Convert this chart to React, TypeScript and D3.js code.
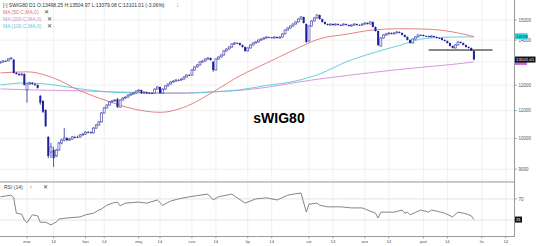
import React from 'react';
import * as d3 from 'd3';

const W = 536;
const H = 246;

const startDate = '2020-02-17';
const holidays = ['2020-04-10', '2020-04-13', '2020-05-01', '2020-06-11', '2020-11-11'];
const monthNames = ['sty', 'lut', 'mar', 'kwi', 'maj', 'cze', 'lip', 'sie', 'wrz', 'paź', 'lis', 'gru'];

// [open, high, low, close] per trading day from 2020-02-17
const candles: number[][] = [
  [12950, 13010, 12930, 12990], [12990, 13060, 12970, 13040], [13040, 13070, 13010, 13040], [13040, 13150, 13030, 13130],
  [13130, 13200, 13110, 13170], [13100, 13110, 12490, 12515], [12515, 12560, 12440, 12470], [12470, 12500, 12380, 12430],
  [12430, 12500, 12400, 12470], [12470, 12490, 11990, 12010], [11810, 12070, 11300, 12050], [12050, 12130, 12020, 12095],
  [12095, 12120, 12010, 12050], [12050, 12080, 11980, 12010], [12010, 12030, 11860, 11890], [11570, 11600, 11220, 11300],
  [11370, 11400, 10910, 10955], [11020, 11050, 10400, 10430], [10050, 10080, 9350, 9415], [9545, 9845, 9350, 9710],
  [9610, 9720, 9070, 9350], [9420, 9650, 9380, 9610], [9610, 9880, 9580, 9845], [9845, 9990, 9800, 9945],
  [9945, 10360, 9900, 10015], [10015, 10040, 9900, 9945], [9945, 10010, 9920, 9980], [9980, 10080, 9960, 10050],
  [10050, 10090, 10010, 10050], [10050, 10100, 10020, 10050], [10050, 10150, 10030, 10120], [10120, 10180, 10100, 10150],
  [10150, 10250, 10130, 10220], [10220, 10260, 10180, 10220], [10220, 10240, 10160, 10190], [10190, 10390, 10180, 10360],
  [10360, 10500, 10340, 10470], [10470, 10610, 10450, 10580], [10580, 10940, 10560, 10910], [10910, 11130, 10890, 11100],
  [11100, 11240, 11080, 11210], [11210, 11360, 11190, 11330], [11330, 11400, 11300, 11370], [11370, 11440, 11340, 11405],
  [11440, 11490, 11100, 11135], [11135, 11430, 11120, 11405], [11405, 11510, 11390, 11480], [11480, 11550, 11460, 11520],
  [11520, 11630, 11500, 11600], [11600, 11670, 11580, 11640], [11640, 11710, 11620, 11680], [11680, 11790, 11660, 11760],
  [11760, 11830, 11740, 11800], [11800, 11820, 11650, 11680], [11680, 11750, 11660, 11720], [11720, 11740, 11650, 11680],
  [11680, 11720, 11650, 11680], [11680, 11710, 11640, 11680], [11680, 11870, 11660, 11840], [11840, 11950, 11820, 11925],
  [11925, 11940, 11650, 11680], [11680, 11870, 11660, 11840], [11840, 11990, 11820, 11970], [11970, 12080, 11950, 12050],
  [12050, 12160, 12030, 12130], [12130, 12200, 12110, 12170], [12170, 12240, 12150, 12215], [12215, 12250, 12180, 12215],
  [12215, 12280, 12190, 12255], [12255, 12370, 12230, 12340], [12340, 12450, 12320, 12425], [12425, 12460, 12390, 12425],
  [12425, 12670, 12400, 12640], [12640, 12800, 12620, 12770], [12770, 12890, 12750, 12860], [12860, 13020, 12840, 12990],
  [12990, 13060, 12970, 13035], [13035, 13150, 13010, 13125], [13125, 13200, 13100, 13170], [13170, 13190, 13050, 13080],
  [13000, 13020, 12560, 12640], [12640, 13150, 12620, 13125], [13125, 13240, 13100, 13215], [13215, 13330, 13190, 13305],
  [13305, 13520, 13280, 13490], [13490, 13610, 13470, 13580], [13580, 13700, 13560, 13675], [13675, 13840, 13650, 13815],
  [13815, 13900, 13790, 13865], [13865, 13900, 13830, 13865], [13865, 13880, 13740, 13770], [13770, 13790, 13650, 13675],
  [13675, 13700, 13460, 13490], [13490, 13660, 13470, 13630], [13630, 13800, 13610, 13770], [13770, 13890, 13750, 13865],
  [13865, 13940, 13840, 13915], [13915, 14030, 13890, 14005], [14005, 14080, 13980, 14055], [14055, 14130, 14030, 14105],
  [14105, 14180, 14080, 14150], [14150, 14170, 14100, 14130], [14130, 14150, 14080, 14105], [14105, 14180, 14080, 14150],
  [14150, 14170, 14080, 14105], [14105, 14180, 14080, 14150], [14150, 14330, 14130, 14300], [14300, 14520, 14280, 14495],
  [14495, 14620, 14470, 14595], [14595, 14720, 14570, 14695], [14695, 14820, 14670, 14795], [14795, 14930, 14770, 14900],
  [14900, 15080, 14880, 15050], [15050, 15200, 15030, 15155], [15155, 15170, 14820, 14850], [14800, 14820, 13870, 13915],
  [13960, 14720, 13940, 14695], [14695, 14980, 14670, 14950], [14950, 15130, 14930, 15105], [15105, 15290, 15080, 15260],
  [15260, 15280, 15020, 15050], [15050, 15070, 14870, 14900], [14900, 14920, 14770, 14795], [14795, 14820, 14720, 14745],
  [14745, 14820, 14720, 14795], [14795, 14820, 14720, 14745], [14745, 14820, 14720, 14795], [14795, 14820, 14720, 14745],
  [14745, 14780, 14710, 14745], [14745, 14820, 14720, 14795], [14795, 14820, 14720, 14745], [14745, 14770, 14670, 14695],
  [14695, 14770, 14670, 14745], [14745, 14820, 14720, 14795], [14795, 14820, 14720, 14745], [14745, 14780, 14710, 14745],
  [14745, 14820, 14720, 14795], [14795, 14880, 14770, 14850], [14850, 14870, 14770, 14795], [14795, 14930, 14770, 14900],
  [14900, 14920, 14620, 14645], [14645, 14670, 14420, 14445], [14445, 14470, 13720, 13770], [13720, 14130, 13700, 14105],
  [14105, 14280, 14080, 14250], [14250, 14330, 14230, 14300], [14300, 14380, 14280, 14350], [14350, 14370, 14280, 14300],
  [14300, 14380, 14280, 14350], [14350, 14430, 14330, 14400], [14400, 14420, 14330, 14350], [14350, 14370, 14230, 14250],
  [14250, 14270, 14130, 14155], [14155, 14180, 13990, 14010], [14010, 14030, 13840, 13865], [13865, 14080, 13840, 14055],
  [14055, 14180, 14030, 14155], [14155, 14280, 14130, 14250], [14250, 14280, 14220, 14250], [14250, 14270, 14180, 14200],
  [14200, 14230, 14170, 14200], [14200, 14220, 14130, 14155], [14155, 14230, 14130, 14200], [14200, 14220, 14130, 14155],
  [14155, 14170, 14080, 14105], [14105, 14130, 14080, 14105], [14105, 14120, 13990, 14010], [14010, 14030, 13940, 13960],
  [13960, 13980, 13840, 13865], [13865, 13880, 13700, 13725], [13725, 13740, 13610, 13630], [13630, 13800, 13610, 13770],
  [13770, 13940, 13750, 13915], [13915, 13930, 13840, 13865], [13865, 13880, 13750, 13770], [13770, 13790, 13650, 13675],
  [13675, 13700, 13610, 13630], [13630, 13650, 13490, 13515], [13498.25, 13504.97, 13079.08, 13101.01],
];

// moving averages sampled every 10 sessions (session index)
const maIdx = [0, 10, 20, 30, 40, 50, 60, 70, 80, 90, 100, 110, 120, 130, 140, 150, 160, 170, 178];
const ma50 = [12515, 12560, 12300, 11770, 11375, 11065, 10935, 11165, 11730, 12390, 12940, 13520, 14065, 14285, 14495, 14560, 14540, 14400, 14170];
const ma100 = [12010, 12095, 12010, 11850, 11730, 11690, 11670, 11670, 11730, 11810, 11990, 12150, 12470, 12995, 13400, 13750, 14090, 14150, 14158];
const ma200 = [11850, 11810, 11790, 11770, 11730, 11710, 11690, 11690, 11730, 11790, 11910, 12095, 12260, 12400, 12535, 12665, 12775, 12885, 12995];

const rsiIdx = [0, 4, 5, 6, 8, 9, 10, 12, 14, 15, 17, 19, 20, 21, 22, 25, 30, 32, 35, 37, 38, 40, 42, 44, 45, 47, 52, 55, 59, 61, 64, 67, 71, 75, 78, 80, 82, 87, 92, 96, 100, 104, 108, 110, 113, 115, 116, 119, 120, 123, 128, 132, 136, 138, 141, 142, 143, 148, 151, 152, 153, 154, 158, 161, 162, 164, 167, 170, 172, 175, 177, 178];
const rsiVal = [74, 77, 72, 43, 41, 30, 25, 40, 38, 26, 26, 21, 24, 26, 32, 34, 36, 40, 43, 49, 51, 58, 62, 64, 57, 62, 64, 62, 68, 58, 66, 70, 74, 77, 79, 68, 74, 79, 62, 70, 72, 68, 77, 79, 81, 45, 60, 62, 58, 55, 55, 53, 53, 49, 43, 34, 45, 45, 49, 43, 45, 40, 49, 45, 49, 47, 43, 36, 45, 42, 38, 31];

const priceTicks = [9000, 10000, 11000, 12000, 13000, 14000, 15000];
const rsiLevels = [30, 70];
const supportLevel = 13535;
const supportFrom = 161;
const supportTo = 185;

const headerText = '[-] SWIG80 D1 O:13498.25 H:13504.97 L:13079.08 C:13101.01 (-3.06%)';
const legendLabels = ['MA (50,C,MA,0)', 'MA (200,C,MA,0)', 'MA (100,C,MA,0)'];
const legendColors = ['#e07575', '#cf8fd8', '#55ccd8'];
const title = 'sWIG80';
const lastCloseLabel = '13101.01';
const ma100Label = '14158';
const rsiLastLabel = '31';

const FONT = "Arial, 'Liberation Sans', sans-serif";

function tradingDays(start: string, count: number): Date[] {
  const out: Date[] = [];
  const fmt = d3.timeFormat('%Y-%m-%d');
  let d = new Date(start + 'T00:00:00');
  while (out.length < count) {
    const dow = d.getDay();
    if (dow !== 0 && dow !== 6 && !holidays.includes(fmt(d))) out.push(new Date(d));
    d = d3.timeDay.offset(d, 1);
  }
  return out;
}

export default function App() {
  const days = tradingDays(startDate, 200);
  const x = d3.scaleLinear().domain([10, 181]).range([27, 481.9]);
  const y = d3.scaleLog().domain([9000, 15000]).range([169.2, 20]);
  const yr = d3.scaleLinear().domain([0, 100]).range([236, 183]);
  const axisX = 514.5;
  const mainBottom = 181;

  const ticks: { i: number; label: string }[] = [];
  for (let i = 1; i < days.length; i++) {
    const d = days[i], p = days[i - 1];
    if (d.getMonth() !== p.getMonth()) ticks.push({ i, label: monthNames[d.getMonth()] });
    else if (d.getDate() >= 14 && p.getDate() < 14) ticks.push({ i, label: '14' });
  }
  const visTicks = ticks.filter(t => x(t.i) < axisX - 4);

  const maLine = (vals: number[]) =>
    d3.line<number>().x((_, k) => x(maIdx[k])).y(v => y(v)).curve(d3.curveMonotoneX)(vals) || '';
  const rsiPath = d3.line<number>().x((_, k) => x(rsiIdx[k])).y(v => yr(v))(rsiVal) || '';

  const candleW = 2;
  const last = candles[candles.length - 1];

  // value boxes on the right axis (they hide the tick labels underneath)
  const boxYs = [y(last[3]), y(ma200[ma200.length - 1])];
  const rsiBoxY = yr(rsiVal[rsiVal.length - 1]);
  const priceLabelTicks = priceTicks.filter(p => boxYs.every(b => Math.abs(y(p) - b) > 4.5));
  const rsiLabelLevels = rsiLevels.filter(l => Math.abs(yr(l) - rsiBoxY) > 4.5);

  return (
    <svg width={W} height={H} style={{ position: 'absolute', left: 0, top: 0, background: '#fff' }} fontFamily={FONT}>
      <defs>
        <clipPath id="mainClip"><rect x={0} y={0} width={axisX} height={mainBottom} /></clipPath>
        <clipPath id="rsiClip"><rect x={0} y={183} width={axisX} height={53} /></clipPath>
      </defs>
      <rect x={0} y={0} width={W} height={H} fill="#fff" />
      {/* grid */}
      {visTicks.map((t, k) => (
        <g key={'vg' + k}>
          <line x1={x(t.i)} x2={x(t.i)} y1={0} y2={mainBottom} stroke="#f0f0f0" strokeWidth={1} />
          <line x1={x(t.i)} x2={x(t.i)} y1={183} y2={236} stroke="#f0f0f0" strokeWidth={1} />
        </g>
      ))}
      {priceTicks.map(p => (
        <line key={'hg' + p} x1={0} x2={axisX} y1={y(p)} y2={y(p)} stroke="#f0f0f0" strokeWidth={1} />
      ))}
      {rsiLevels.map(l => (
        <line key={'rl' + l} x1={0} x2={axisX} y1={yr(l)} y2={yr(l)} stroke="#dcdcdc" strokeWidth={0.8} />
      ))}

      {/* title */}
      <text x={279} y={123.3} textAnchor="middle" fontSize={14} fontWeight="bold" fill="#000">{title}</text>

      <g clipPath="url(#mainClip)">
        <path d={maLine(ma200)} fill="none" stroke={legendColors[1]} strokeWidth={0.9} />
        <path d={maLine(ma100)} fill="none" stroke={legendColors[2]} strokeWidth={0.9} />
        <path d={maLine(ma50)} fill="none" stroke={legendColors[0]} strokeWidth={0.9} />
        {candles.map((c, i) => {
          const [o, h, l, cl] = c;
          const cx = x(i);
          const top = y(Math.max(o, cl));
          const bot = y(Math.min(o, cl));
          const up = cl > o;
          const bh = Math.max(bot - top, 0.8);
          return (
            <g key={'c' + i}>
              <line x1={cx} x2={cx} y1={y(h)} y2={y(l)} stroke="#2a2aa0" strokeWidth={0.8} />
              {up ? (
                <rect x={cx - candleW / 2} y={top} width={candleW} height={bh} fill="#fff" stroke="#4a4ab4" strokeWidth={0.7} />
              ) : (
                <rect x={cx - candleW / 2} y={top} width={candleW} height={bh} fill="#1f1f9e" />
              )}
            </g>
          );
        })}
        <line x1={x(supportFrom)} x2={x(supportTo)} y1={y(supportLevel)} y2={y(supportLevel)} stroke="#111" strokeWidth={1} />
      </g>

      <g clipPath="url(#rsiClip)">
        <path d={rsiPath} fill="none" stroke="#777" strokeWidth={0.9} />
      </g>

      {/* separators & axes */}
      <rect x={0} y={mainBottom} width={axisX} height={1.8} fill="#c4c4c4" />
      <line x1={axisX} x2={axisX} y1={0} y2={237} stroke="#9a9a9a" strokeWidth={1} />
      <line x1={0} x2={axisX} y1={236.5} y2={236.5} stroke="#9a9a9a" strokeWidth={1} />
      {visTicks.map((t, k) => (
        <g key={'xt' + k}>
          <line x1={x(t.i)} x2={x(t.i)} y1={236} y2={238.5} stroke="#888" strokeWidth={0.7} />
          <text x={x(t.i)} y={242.6} textAnchor="middle" fontSize={4.3} fill="#555">{t.label}</text>
        </g>
      ))}
      {priceTicks.map(p => (
        <line key={'ytm' + p} x1={axisX} x2={axisX + 2.5} y1={y(p)} y2={y(p)} stroke="#888" strokeWidth={0.7} />
      ))}
      {priceLabelTicks.map(p => (
        <text key={'yt' + p} x={axisX + 4} y={y(p) + 1.6} fontSize={4.5} fill="#555">{p}</text>
      ))}
      {rsiLevels.map(l => (
        <line key={'rtm' + l} x1={axisX} x2={axisX + 2.5} y1={yr(l)} y2={yr(l)} stroke="#888" strokeWidth={0.7} />
      ))}
      {rsiLabelLevels.map(l => (
        <text key={'rt' + l} x={axisX + 4} y={yr(l) + 1.6} fontSize={4.5} fill="#555">{l}</text>
      ))}

      {/* right value boxes */}
      <rect x={axisX + 0.5} y={y(ma200[ma200.length - 1]) - 3} width={12} height={6} fill="#c266dd" />
      <rect x={axisX + 0.5} y={y(ma100[ma100.length - 1]) - 3.6} width={12.5} height={6} fill="#2fd3df" />
      <text x={axisX + 1.6} y={y(ma100[ma100.length - 1]) + 1.3} fontSize={4.3} fill="#123">{ma100Label}</text>
      <rect x={axisX + 0.5} y={y(last[3]) - 3} width={20.5} height={6} fill="#111" />
      <text x={axisX + 1.6} y={y(last[3]) + 1.6} fontSize={4.3} fill="#fff">{lastCloseLabel}</text>
      <rect x={axisX + 0.5} y={rsiBoxY - 3} width={7} height={6} fill="#111" />
      <text x={axisX + 1.4} y={rsiBoxY + 1.6} fontSize={4.3} fill="#fff">{rsiLastLabel}</text>

      {/* header & legend */}
      <text x={3} y={6.8} fontSize={5} fill="#333">{headerText}</text>
      <text x={177} y={6.8} fontSize={5} fill="#333">⁝</text>
      {legendLabels.map((lab, k) => (
        <g key={'lg' + k}>
          <text x={3} y={14 + k * 6.8} fontSize={5} fill={legendColors[k]}>{lab}</text>
          <text x={k === 0 ? 44 : 47} y={14 + k * 6.8} fontSize={5.5} fill="#444">✕</text>
        </g>
      ))}
      <text x={4} y={188.6} fontSize={5} fill="#444">RSI (14)</text>
      <text x={29.5} y={188.8} fontSize={5.5} fill="#444">↑</text>
      <text x={42.5} y={188.8} fontSize={5.5} fill="#444">✕</text>
    </svg>
  );
}
